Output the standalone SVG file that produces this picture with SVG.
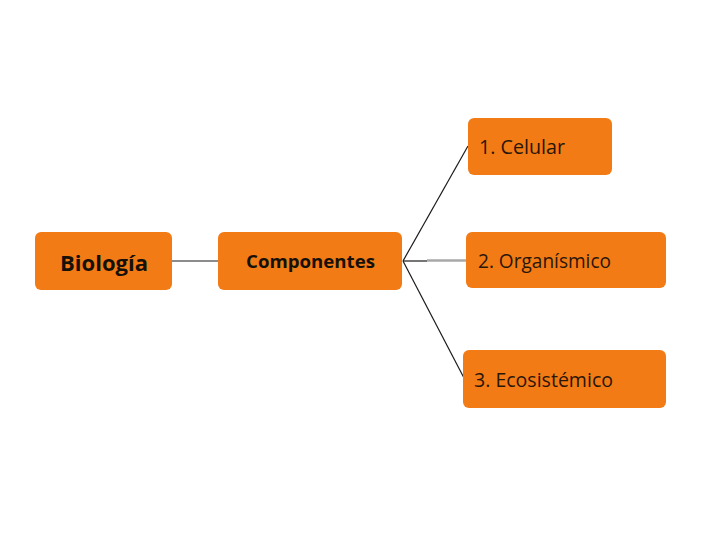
<svg xmlns="http://www.w3.org/2000/svg" width="720" height="540" viewBox="0 0 720 540">
<style>
.box{fill:#F37B16;}
.t{font-family:"Open Sans","Liberation Sans",sans-serif;fill:#2a1608;}
.b{font-weight:bold;fill:#151008;}
.ln{stroke:#1a1a1a;stroke-width:1.2;fill:none;}
</style>
<rect width="720" height="540" fill="#ffffff"/>
<g id="connectors">
<line class="ln" x1="172" y1="261" x2="218" y2="261"/>
<line class="ln" x1="403" y1="261" x2="468" y2="146"/>
<line class="ln" x1="403" y1="261" x2="427" y2="261"/>
<line x1="427" y1="260.5" x2="466" y2="260.5" stroke="#a8a8a8" stroke-width="2.5"/>
<line class="ln" x1="403" y1="261" x2="464" y2="378"/>
</g>
<g id="biologia">
<rect class="box" x="35" y="232" width="137" height="58" rx="6"/>
<text class="t b" x="104" y="271" text-anchor="middle" font-size="22" textLength="88" lengthAdjust="spacingAndGlyphs">Biología</text>
</g>
<g id="componentes">
<rect class="box" x="218" y="232" width="184" height="58" rx="6"/>
<text class="t b" x="310.5" y="268" text-anchor="middle" font-size="18.5" textLength="129" lengthAdjust="spacingAndGlyphs">Componentes</text>
</g>
<g id="celular">
<rect class="box" x="468" y="118" width="144" height="57" rx="6"/>
<text class="t" x="479" y="154" font-size="19.5" textLength="86" lengthAdjust="spacingAndGlyphs">1. Celular</text>
</g>
<g id="organismico">
<rect class="box" x="466" y="232" width="200" height="56" rx="6"/>
<text class="t" x="478" y="268" font-size="19.5" textLength="133" lengthAdjust="spacingAndGlyphs">2. Organísmico</text>
</g>
<g id="ecosistemico">
<rect class="box" x="463" y="350" width="203" height="58" rx="6"/>
<text class="t" x="474" y="387" font-size="19.5" textLength="139" lengthAdjust="spacingAndGlyphs">3. Ecosistémico</text>
</g>
</svg>
